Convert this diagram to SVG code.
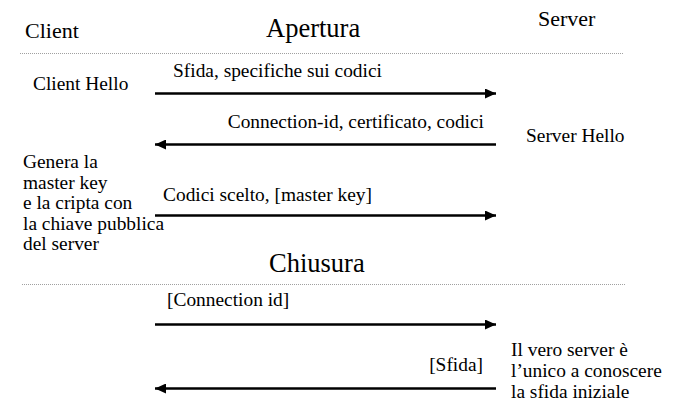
<svg xmlns="http://www.w3.org/2000/svg" width="678" height="405" viewBox="0 0 678 405" font-family="'Liberation Serif', 'DejaVu Serif', 'Times New Roman', Times, serif">
  <style>
    text { font-family: 'Liberation Serif', 'DejaVu Serif', 'Times New Roman', Times, serif; fill: #000; }
    .hdr { font-size: 22px; }
    .phase { font-size: 26.5px; }
    .lbl { font-size: 19.4px; }
    .sep { stroke: #a0a0a0; stroke-width: 1; stroke-dasharray: 1 1; fill: none; }
    .msg { stroke: #000; stroke-width: 2.4; fill: none; }
  </style>
  <defs>
    <marker id="head" viewBox="0 0 11 10" refX="11" refY="5" markerWidth="11" markerHeight="10" markerUnits="userSpaceOnUse" orient="auto">
      <path d="M0,0 L11,5 L0,10 Z" fill="#000"/>
    </marker>
  </defs>

  <!-- column headings -->
  <g id="client-title"><text class="hdr" x="25" y="38">Client</text></g>
  <g id="server-title"><text class="hdr" x="538" y="26">Server</text></g>

  <!-- phase: opening -->
  <g id="apertura">
    <text class="phase" x="266" y="37">Apertura</text>
    <line class="sep" x1="20" y1="53.5" x2="624" y2="53.5"/>
  </g>

  <g id="client-hello"><text class="lbl" x="33" y="90">Client Hello</text></g>
  <g id="server-hello"><text class="lbl" x="526" y="142">Server Hello</text></g>

  <g id="client-note">
    <text class="lbl" x="23" y="168">Genera la</text>
    <text class="lbl" x="23" y="188.5">master key</text>
    <text class="lbl" x="23" y="209">e la cripta con</text>
    <text class="lbl" x="23" y="229.5">la chiave pubblica</text>
    <text class="lbl" x="23" y="250">del server</text>
  </g>

  <!-- phase: closing -->
  <g id="chiusura">
    <text class="phase" x="269" y="272">Chiusura</text>
    <line class="sep" x1="22" y1="284.5" x2="626" y2="284.5"/>
  </g>

  <g id="server-note">
    <text class="lbl" x="511" y="356">Il vero server è</text>
    <text class="lbl" x="511" y="377">l’unico a conoscere</text>
    <text class="lbl" x="511" y="398">la sfida iniziale</text>
  </g>

  <!-- messages -->
  <g id="connectors">
    <line class="msg" x1="155" y1="93.5" x2="496" y2="93.5" marker-end="url(#head)"/>
    <text class="lbl" x="173" y="77">Sfida, specifiche sui codici</text>

    <line class="msg" x1="496" y1="144.5" x2="155" y2="144.5" marker-end="url(#head)"/>
    <text class="lbl" x="484" y="128" text-anchor="end">Connection-id, certificato, codici</text>

    <line class="msg" x1="155" y1="215.5" x2="496" y2="215.5" marker-end="url(#head)"/>
    <text class="lbl" x="163" y="201">Codici scelto, [master key]</text>

    <line class="msg" x1="155" y1="324.5" x2="496" y2="324.5" marker-end="url(#head)"/>
    <text class="lbl" x="167" y="306">[Connection id]</text>

    <line class="msg" x1="496" y1="388.5" x2="155" y2="388.5" marker-end="url(#head)"/>
    <text class="lbl" x="483" y="371" text-anchor="end">[Sfida]</text>
  </g>
</svg>
